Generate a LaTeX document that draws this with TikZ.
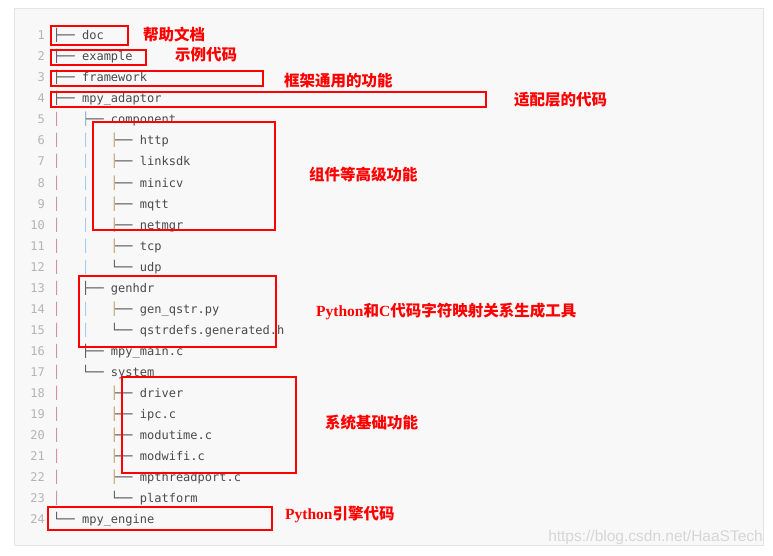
\documentclass[tikz,border=0pt]{standalone}
\usepackage{fontspec}
\setmonofont{DejaVu Sans Mono}
\newfontfamily\cjk{Noto Sans CJK SC}
\newfontfamily\pyserif{Liberation Serif}
\newfontfamily\markfont{Liberation Sans}
\usepackage{xcolor}
\usetikzlibrary{positioning}

\definecolor{panelbg}{HTML}{F8F8F8}
\definecolor{panelline}{HTML}{E4E4E4}
\definecolor{codegray}{HTML}{4A4A4A}
\definecolor{numgray}{HTML}{B4B4B4}
\definecolor{guideA}{HTML}{C98394}
\definecolor{guideB}{HTML}{9CC6EC}
\definecolor{guideC}{HTML}{E7BF84}
\definecolor{notered}{HTML}{FF0000}

% tree pieces, 4 columns each
\newcommand\barA{\textcolor{guideA}{│}\hphantom{xxx}}
\newcommand\barB{\textcolor{guideB}{│}\hphantom{xxx}}
\newcommand\blankcol{\hphantom{xxxx}}
\newcommand\treetee{├──\hphantom{x}}
\newcommand\teeB{├\llap{\textcolor{guideB}{│}}──\hphantom{x}}
\newcommand\teeC{├\llap{\textcolor{guideC}{│}}──\hphantom{x}}
\newcommand\treelast{└──\hphantom{x}}

\tikzset{
    numtext/.style={inner sep=0pt, anchor=base east, text=numgray,
        font=\ttfamily\fontsize{12}{14}\selectfont},
    codetext/.style={inner sep=0pt, text=codegray,
        font=\ttfamily\fontsize{12}{14}\selectfont},
    redbox/.style={draw=notered, line width=1.8pt},
    note/.style={inner sep=0pt, anchor=west, text=notered,
        font=\cjk\bfseries\fontsize{15.5}{17}\selectfont},
}

\begin{document}
\begin{tikzpicture}[x=1pt, y=-1pt]
    \fill[white] (0,0) rectangle (773,556);
    \useasboundingbox (0,0) rectangle (773,556);
    \draw[panelline, fill=panelbg] (14.5,8.5) rectangle (763,545.5);

    % listing
    \foreach \i/\txt in {
        1/{\treetee doc},
        2/{\treetee example},
        3/{\treetee framework},
        4/{\treetee mpy\_adaptor},
        5/{\barA\teeB component},
        6/{\barA\barB\teeC http},
        7/{\barA\barB\teeC linksdk},
        8/{\barA\barB\teeC minicv},
        9/{\barA\barB\teeC mqtt},
        10/{\barA\barB\teeC netmgr},
        11/{\barA\barB\teeC tcp},
        12/{\barA\barB\treelast udp},
        13/{\barA\treetee genhdr},
        14/{\barA\barB\teeC gen\_qstr.py},
        15/{\barA\barB\treelast qstrdefs.generated.h},
        16/{\barA\treetee mpy\_main.c},
        17/{\barA\treelast system},
        18/{\barA\blankcol\teeC driver},
        19/{\barA\blankcol\teeC ipc.c},
        20/{\barA\blankcol\teeC modutime.c},
        21/{\barA\blankcol\teeC modwifi.c},
        22/{\barA\blankcol\teeC mpthreadport.c},
        23/{\barA\blankcol\treelast platform},
        24/{\treelast mpy\_engine}} {
        \node[numtext] (n\i) at (45, 19+21*\i) {\i};
        \node[codetext, base right=8pt of n\i] (l\i) {\txt};
    }

    % marked groups
    \draw[redbox] (51,26) rectangle (128,45);
    \draw[redbox] (51,50) rectangle (146,65);
    \draw[redbox] (51,71) rectangle (263,86);
    \draw[redbox] (51,92) rectangle (486,107);
    \draw[redbox] (93,122) rectangle (275,230);
    \draw[redbox] (79,276) rectangle (276,347);
    \draw[redbox] (122,377) rectangle (296,473);
    \draw[redbox] (48,507) rectangle (272,530);

    % notes
    \node[note] (docnote) at (143,35) {帮助文档};
    \node[note] (examplenote) at (175,55) {示例代码};
    \node[note] (frameworknote) at (284,81) {框架通用的功能};
    \node[note] (adaptornote) at (514,100) {适配层的代码};
    \node[note] (componentnote) at (309,175) {组件等高级功能};
    \node[note] (genhdrnote) at (316,311) {{\pyserif Python}和{\pyserif C}代码字符映射关系生成工具};
    \node[note] (systemnote) at (325,423) {系统基础功能};
    \node[note] (enginenote) at (285,515) {{\pyserif Python}引擎代码};

    \node[inner sep=0pt, anchor=east, text=black!16,
        font=\markfont\fontsize{15.5}{17}\selectfont] (mark) at (763,537)
        {https://blog.csdn.net/HaaSTech};
\end{tikzpicture}
\end{document}
